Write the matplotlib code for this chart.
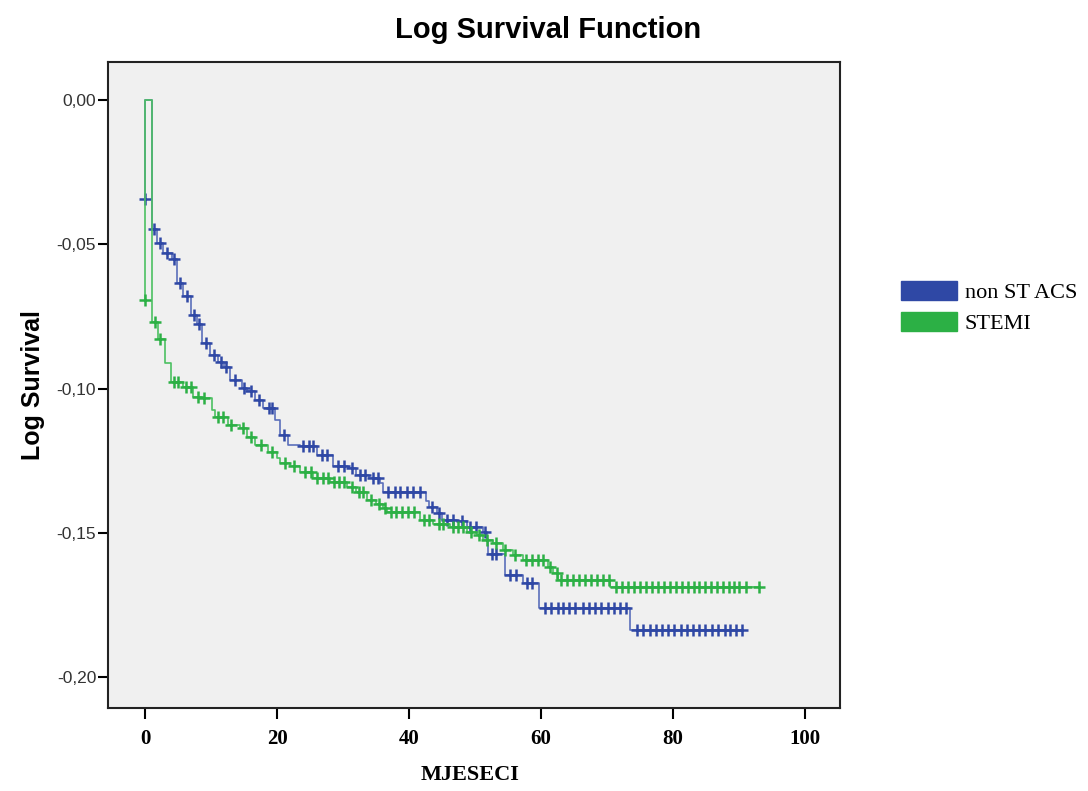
import matplotlib
matplotlib.use("Agg")
import matplotlib.pyplot as plt
from matplotlib.patches import Patch
from matplotlib.ticker import FuncFormatter
import numpy as np

# step points of the log survival curves (time, value after the step)
blue_t = [0, 0, 1.0, 1.8, 2.7, 4.1, 4.8, 5.8, 7.0, 7.9, 8.6, 9.8, 11.1, 11.9, 12.9,
          14.7, 15.4, 16.7, 17.9, 19.7, 20.5, 21.7, 23.5, 26.0, 28.5, 30.8, 32.0, 34.0,
          35.6, 36.0, 42.5, 43.0, 44.2, 45.0, 47.3, 48.8, 51.2, 51.8, 52.0, 54.5, 57.2,
          59.7, 73.5, 90.6]
blue_v = [-0.0343, 0, -0.0447, -0.0495, -0.053, -0.055, -0.0635, -0.068, -0.0745, -0.0776,
          -0.0843, -0.0884, -0.0907, -0.0924, -0.097, -0.0999, -0.101, -0.104, -0.1068,
          -0.1109, -0.116, -0.1195, -0.120, -0.123, -0.127, -0.1275, -0.130, -0.131,
          -0.1327, -0.136, -0.139, -0.141, -0.143, -0.1455, -0.146, -0.148, -0.1497,
          -0.152, -0.1575, -0.1646, -0.1674, -0.176, -0.1837, -0.1837]

green_t = [0, 0, 1.0, 2.0, 3.0, 4.0, 5.8, 7.3, 8.6, 10.2, 10.6, 12.6, 14.4, 15.4, 16.7,
           18.6, 20.0, 20.5, 22.0, 23.5, 25.5, 28.0, 30.6, 32.0, 33.6, 35.0, 36.0, 36.7,
           41.7, 43.6, 46.2, 48.8, 50.3, 51.2, 52.7, 54.2, 55.8, 57.3, 61.0, 61.8, 62.5,
           70.5, 93.0]
green_v = [-0.0693, 0, -0.077, -0.083, -0.0911, -0.0976, -0.0994, -0.1029, -0.1032, -0.1074,
           -0.110, -0.1126, -0.1137, -0.1168, -0.1195, -0.122, -0.124, -0.1258, -0.127,
           -0.129, -0.131, -0.1324, -0.134, -0.136, -0.1386, -0.140, -0.1414, -0.1428,
           -0.1455, -0.147, -0.148, -0.1497, -0.1507, -0.1525, -0.1535, -0.156, -0.1577,
           -0.1595, -0.1617, -0.164, -0.1663, -0.1687, -0.1687]

# censored times
blue_cens = [0, 1.4, 2.3, 3.4, 4.4, 5.3, 6.4, 7.4, 8.2, 9.2, 10.4, 11.5, 12.3, 13.6, 15.0,
             16.1, 17.3, 18.8, 19.2, 21.0, 24.0, 24.8, 25.5, 26.8, 27.6, 29.2, 30.2, 31.3,
             32.6, 33.3, 34.6, 35.3, 36.8, 37.8, 38.7, 39.7, 40.6, 41.6, 43.5, 44.6, 45.8,
             46.6, 48.1, 49.3, 50.2, 51.5, 52.6, 53.2, 55.3, 56.2, 57.8, 58.6, 60.6, 61.5,
             62.5, 63.4, 64.3, 65.2, 66.3, 67.2, 68.2, 69.1, 70.1, 71.0, 72.0, 72.8, 74.6,
             75.5, 76.5, 77.4, 78.3, 79.3, 80.2, 81.2, 82.1, 83.0, 84.0, 84.9, 85.9, 86.8,
             87.8, 88.7, 89.6, 90.5]
green_cens = [0, 1.5, 2.2, 4.4, 5.0, 6.2, 7.0, 8.0, 9.0, 11.0, 11.8, 13.0, 14.8, 16.0, 17.5,
              19.2, 21.2, 22.6, 24.3, 25.2, 26.1, 26.9, 27.7, 28.6, 29.4, 30.2, 31.3, 32.4,
              33.1, 34.3, 35.4, 36.3, 37.2, 38.0, 39.0, 39.9, 40.8, 42.3, 43.0, 44.5, 45.2,
              46.6, 47.4, 48.2, 49.4, 50.6, 51.8, 53.2, 54.6, 56.0, 57.7, 58.6, 59.5, 60.3,
              61.3, 62.4, 63.1, 64.0, 64.9, 65.8, 66.7, 67.6, 68.5, 69.4, 70.3, 71.4, 72.3,
              73.2, 74.1, 75.0, 75.9, 76.8, 77.7, 78.6, 79.5, 80.4, 81.3, 82.2, 83.1, 84.0,
              84.9, 85.8, 86.7, 87.6, 88.5, 89.2, 90.0, 91.0, 93.0]

groups = ["non ST ACS", "STEMI"]
yticks = [0.0, -0.05, -0.10, -0.15, -0.20]
xticks = [0, 20, 40, 60, 80, 100]


def censor_y(times, vals, cens):
    t = np.array(times)
    v = np.array(vals)
    c = np.array(cens)
    idx = np.searchsorted(t, c, side="right") - 1
    return np.where(c == 0, v[0], v[idx])


fig = plt.figure(figsize=(10.88, 7.91), dpi=100)
ax = fig.add_axes([0.0993, 0.105, 0.6728, 0.8167])
ax.set_facecolor("#f0f0f0")

line_cols = ["#5a6fba", "#4cc062"]
mark_cols = ["#2f48a5", "#2cb045"]
series = [(blue_t, blue_v, blue_cens), (green_t, green_v, green_cens)]
for (t, v, c), lc, mc in zip(series, line_cols, mark_cols):
    ax.plot(t, v, drawstyle="steps-post", color=lc, lw=1.2)
    ax.plot(c, censor_y(t, v, c), ls="none", marker="+", ms=8.5, mew=1.8, color=mc)

ax.set_xlim(-5.6, 105.3)
ax.set_ylim(-0.2107, 0.0132)
ax.set_xticks(xticks)
ax.set_yticks(yticks)
ax.yaxis.set_major_formatter(FuncFormatter(lambda y, p: f"{y:.2f}".replace(".", ",").replace("-0,00", "0,00")))

for s in ax.spines.values():
    s.set_linewidth(1.5)
    s.set_color("#222222")
ax.tick_params(axis="y", length=7.5, width=1.5, pad=1, labelsize=12.5, labelcolor="#333333")
ax.tick_params(axis="x", length=8, width=1.5, pad=7)
for lab in ax.get_yticklabels():
    lab.set_family("Liberation Sans")
for lab in ax.get_xticklabels():
    lab.set_family("Liberation Serif")
    lab.set_fontweight("bold")
    lab.set_fontsize(15)

ax.set_ylabel("Log Survival", family="Liberation Sans", fontweight="bold", fontsize=18, labelpad=8)
fig.text(0.432, 0.008, "MJESECI", family="Liberation Serif", fontweight="bold", fontsize=16,
         ha="center", va="bottom")
fig.text(0.504, 0.962, "Log Survival Function", family="Liberation Sans", fontweight="bold",
         fontsize=21, ha="center", va="center")

handles = [Patch(facecolor=mark_cols[i], edgecolor=mark_cols[i]) for i in range(2)]
fig.legend(handles, groups, loc="upper left", bbox_to_anchor=(0.81, 0.67), frameon=False,
           prop={"family": "Liberation Serif", "size": 16}, handlelength=2.5, handleheight=0.95,
           handletextpad=0.35, labelspacing=0.4)

fig.savefig("out.png", dpi=100)
